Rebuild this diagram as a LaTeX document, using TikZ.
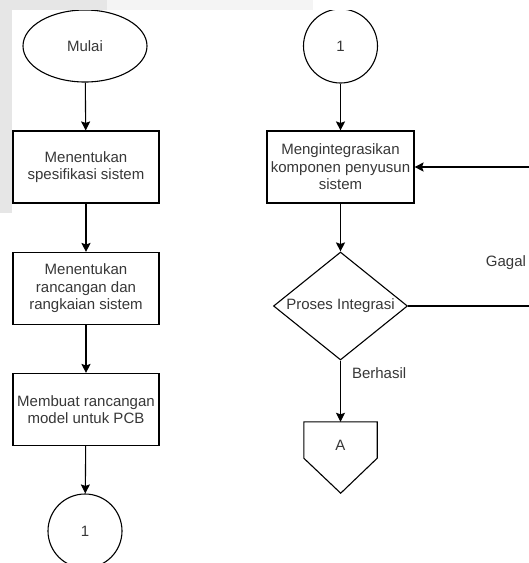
\documentclass[tikz,border=0pt]{standalone}
\usepackage{fontspec}
\setmainfont{Liberation Sans}
\usetikzlibrary{shapes.geometric,arrows.meta,positioning}
\definecolor{stripdark}{RGB}{230,230,230}
\definecolor{striplight}{RGB}{244,244,244}
\definecolor{txtgray}{RGB}{55,55,55}
\tikzset{
    every node/.style={text=txtgray, font=\fontsize{15}{17.5}\selectfont},
    terminal/.style={draw, ellipse, line width=1.1pt, minimum width=124pt, minimum height=72pt, inner sep=0pt},
    flowbox/.style={draw, rectangle, line width=1.1pt, minimum width=146pt, minimum height=72pt, inner sep=0pt, align=center},
    connector/.style={draw, circle, line width=1.1pt, minimum size=74pt, inner sep=0pt},
    decision/.style={draw, diamond, line width=1.1pt, minimum width=134pt, minimum height=108pt, inner sep=0pt},
    offbox/.style={rectangle, minimum width=73pt, minimum height=36pt, inner sep=0pt},
    arr/.style={line width=1.1pt, -{Stealth[length=9pt,width=9pt,inset=1.5pt]}},
    lbl/.style={inner sep=0pt},
}
\begin{document}
\begin{tikzpicture}[x=1pt,y=-1pt]

            \useasboundingbox (0,0) rectangle (529,563);
            \clip (0,0) rectangle (529,563);

            % left column
            \node[terminal] (mulai) at (85,46) {Mulai};
            \node[flowbox] (spek) at (86,167) {Menentukan\\spesifikasi sistem};
            \node[flowbox] (rancang) at (86,288.5) {Menentukan\\rancangan dan\\rangkaian sistem};
            \node[flowbox] (pcb) at (86,409.5) {Membuat rancangan\\model untuk PCB};
            \node[connector] (satuA) at (85,531) {1};

            % right column
            \node[connector] (satuB) at (340.5,46) {1};
            \node[flowbox, minimum width=147pt] (integ) at (340.5,167) {Mengintegrasikan\\komponen penyusun\\sistem};
            \node[decision] (proses) at (340.5,306) {};
            \node (prosestxt) at (proses) {Proses Integrasi};
            \node[offbox] (offA) at (340.5,440) {};
            \node (offAtxt) at (340.5,445) {A};
            \draw[line width=1.1pt] (offA.south west) -- (offA.north west) -- (offA.north east)
                -- (offA.south east) -- ++(-36.5,35) -- cycle;
            \coordinate (balik) at (560,306);

            \draw[arr] (mulai) -- (spek);
            \draw[arr] (spek) -- (rancang);
            \draw[arr] (rancang) -- (pcb);
            \draw[arr] (pcb) -- (satuA);
            \draw[arr] (satuB) -- (integ);
            \draw[arr] (integ) -- (proses);
            \draw[arr] (proses.south) -- node[lbl, pos=.2, right=11pt] {Berhasil} (offA.north);
            \draw[arr] (proses.east) -- (balik) |- (integ.east);
            \node[lbl] (gagal) at (506,263) {Gagal};

            % screenshot edge
            \fill[stripdark] (0,0) rectangle (107,10);
            \fill[striplight] (107,0) rectangle (313,10);
            \fill[white] (313,0) rectangle (529,10);
            \fill[stripdark] (0,0) rectangle (12,213);
        \end{tikzpicture}
\end{document}
